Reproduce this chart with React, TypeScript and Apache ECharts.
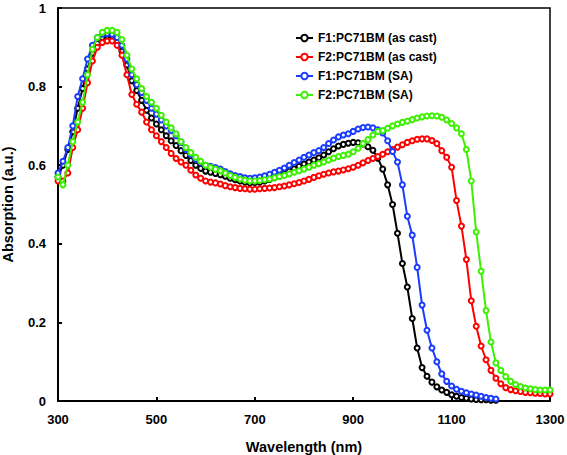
import React, { useEffect, useRef } from "react";
import * as echarts from "echarts";

const wavelengths = [
  300, 310, 320, 330, 340, 350, 360, 370, 380, 390,
  400, 410, 420, 430, 440, 450, 460, 470, 480, 490,
  500, 510, 520, 530, 540, 550, 560, 570, 580, 590,
  600, 610, 620, 630, 640, 650, 660, 670, 680, 690,
  700, 710, 720, 730, 740, 750, 760, 770, 780, 790,
  800, 810, 820, 830, 840, 850, 860, 870, 880, 890,
  900, 910, 920, 930, 940, 950, 960, 970, 980, 990,
  1000, 1010, 1020, 1030, 1040, 1050, 1060, 1070, 1080, 1090,
  1100, 1110, 1120, 1130, 1140, 1150, 1160, 1170, 1180, 1190,
  1200, 1210, 1220, 1230, 1240, 1250, 1260, 1270, 1280, 1290,
  1300,
];

const seriesNames = [
  "F1:PC71BM (as cast)",
  "F2:PC71BM (as cast)",
  "F1:PC71BM (SA)",
  "F2:PC71BM (SA)",
];

const f1AsCast = [
  0.57, 0.60, 0.64, 0.685, 0.745, 0.795, 0.845, 0.885, 0.91, 0.925,
  0.929, 0.928, 0.915, 0.89, 0.855, 0.815, 0.79, 0.765, 0.74, 0.72,
  0.705, 0.69, 0.675, 0.662, 0.65, 0.637, 0.625, 0.612, 0.60, 0.592,
  0.585, 0.582, 0.579, 0.576, 0.572, 0.567, 0.563, 0.56, 0.557, 0.555,
  0.556, 0.557, 0.56, 0.564, 0.568, 0.573, 0.579, 0.585, 0.591, 0.597,
  0.603, 0.608, 0.613, 0.619, 0.626, 0.634, 0.642, 0.649, 0.653, 0.656,
  0.658, 0.657, 0.654, 0.647, 0.638, 0.618, 0.59, 0.55, 0.50, 0.427,
  0.35, 0.29, 0.21, 0.135, 0.085, 0.063, 0.048, 0.036, 0.028, 0.022,
  0.016, 0.012, 0.009, 0.007, 0.005, 0.004, 0.003, 0.003, 0.002, 0.002,
];

const f2AsCast = [
  0.56, 0.56, 0.58, 0.645, 0.69, 0.745, 0.81, 0.865, 0.90, 0.912,
  0.916, 0.916, 0.905, 0.88, 0.83, 0.78, 0.755, 0.735, 0.71, 0.69,
  0.675, 0.66, 0.645, 0.63, 0.617, 0.608, 0.60, 0.587, 0.575, 0.567,
  0.56, 0.557, 0.555, 0.552, 0.548, 0.545, 0.543, 0.541, 0.54, 0.539,
  0.539, 0.54, 0.541, 0.542, 0.543, 0.545, 0.547, 0.55, 0.553, 0.556,
  0.56, 0.564, 0.569, 0.573, 0.577, 0.58, 0.583, 0.585, 0.588, 0.591,
  0.595, 0.60, 0.606, 0.612, 0.617, 0.622, 0.628, 0.634, 0.64, 0.646,
  0.652, 0.658, 0.662, 0.666, 0.667, 0.667, 0.663, 0.655, 0.637, 0.62,
  0.595, 0.51, 0.445, 0.36, 0.255, 0.19, 0.14, 0.105, 0.078, 0.058,
  0.044, 0.034, 0.029, 0.026, 0.024, 0.022, 0.021, 0.02, 0.019, 0.018,
  0.018,
];

const f1SA = [
  0.58, 0.61, 0.645, 0.70, 0.775, 0.82, 0.87, 0.905, 0.925, 0.933,
  0.935, 0.933, 0.925, 0.905, 0.87, 0.83, 0.805, 0.785, 0.765, 0.745,
  0.73, 0.715, 0.70, 0.688, 0.675, 0.658, 0.64, 0.627, 0.615, 0.607,
  0.60, 0.597, 0.594, 0.59, 0.584, 0.578, 0.574, 0.571, 0.568, 0.567,
  0.568, 0.57, 0.573, 0.577, 0.582, 0.587, 0.593, 0.60, 0.607, 0.613,
  0.62, 0.626, 0.632, 0.637, 0.645, 0.655, 0.664, 0.672, 0.677, 0.68,
  0.686, 0.692, 0.696, 0.697, 0.695, 0.69, 0.682, 0.662, 0.635, 0.608,
  0.55, 0.47, 0.422, 0.34, 0.244, 0.18, 0.135, 0.10, 0.069, 0.05,
  0.038, 0.03, 0.025, 0.021, 0.018, 0.015, 0.012, 0.009, 0.007, 0.005,
];

const f2SA = [
  0.57, 0.55, 0.60, 0.66, 0.71, 0.76, 0.83, 0.895, 0.925, 0.938,
  0.943, 0.943, 0.938, 0.92, 0.88, 0.845, 0.82, 0.795, 0.775, 0.76,
  0.745, 0.727, 0.71, 0.695, 0.68, 0.66, 0.645, 0.632, 0.62, 0.61,
  0.60, 0.595, 0.59, 0.586, 0.58, 0.574, 0.569, 0.565, 0.562, 0.56,
  0.56, 0.561, 0.563, 0.565, 0.568, 0.571, 0.574, 0.578, 0.582, 0.586,
  0.59, 0.595, 0.60, 0.604, 0.608, 0.613, 0.618, 0.622, 0.625, 0.628,
  0.634, 0.643, 0.655, 0.665, 0.677, 0.686, 0.688, 0.694, 0.70, 0.705,
  0.709, 0.712, 0.716, 0.72, 0.723, 0.725, 0.726, 0.725, 0.722, 0.715,
  0.706, 0.695, 0.68, 0.64, 0.56, 0.43, 0.33, 0.23, 0.15, 0.097,
  0.078, 0.062, 0.05, 0.042, 0.037, 0.033, 0.031, 0.029, 0.028, 0.028,
  0.028,
];

const seriesValues = [f1AsCast, f2AsCast, f1SA, f2SA];
const seriesColors = ["#000000", "#ff0000", "#1a3cff", "#3cf000"];

const FONT = "'Liberation Sans', Arial, sans-serif";

export default function App() {
  const ref = useRef<HTMLDivElement>(null);

  useEffect(() => {
    if (!ref.current) return;
    const chart = echarts.init(ref.current, null, { renderer: "svg" });
    const series = seriesNames.map((name, i) => ({
      name,
      type: "line",
      data: seriesValues[i].map((v, j) => [wavelengths[j], v]),
      symbol: "emptyCircle",
      symbolSize: 5,
      showAllSymbol: true,
      lineStyle: { color: seriesColors[i], width: 2 },
      itemStyle: { color: seriesColors[i], borderWidth: 1 },
      z: 2 + i,
    }));
    chart.setOption({
      animation: false,
      backgroundColor: "#ffffff",
      grid: {
        left: 58,
        right: 17,
        top: 8,
        bottom: 54,
        containLabel: false,
        outerBoundsMode: "none",
        show: true,
        borderColor: "#000",
        borderWidth: 1.5,
      },
      legend: {
        orient: "vertical",
        left: 290,
        top: 27,
        itemWidth: 17,
        itemHeight: 8,
        itemGap: 7,
        data: seriesNames,
        textStyle: {
          fontFamily: FONT,
          fontWeight: "bold",
          fontSize: 12,
          color: "#000",
        },
      },
      xAxis: {
        type: "value",
        min: 300,
        max: 1300,
        interval: 200,
        name: "Wavelength (nm)",
        nameLocation: "middle",
        nameGap: 38,
        nameTextStyle: {
          fontFamily: FONT,
          fontWeight: "bold",
          fontSize: 14.5,
          color: "#000",
        },
        axisLine: { lineStyle: { color: "#000", width: 2 } },
        axisTick: { inside: true, length: 4, lineStyle: { color: "#000", width: 2 } },
        axisLabel: {
          fontFamily: FONT,
          fontWeight: "bold",
          fontSize: 13,
          color: "#000",
          margin: 12,
          formatter: (v: number) => String(v),
        },
        splitLine: { show: false },
      },
      yAxis: {
        type: "value",
        min: 0,
        max: 1,
        interval: 0.2,
        name: "Absorption (a.u.)",
        nameLocation: "middle",
        nameGap: 43,
        nameTextStyle: {
          fontFamily: FONT,
          fontWeight: "bold",
          fontSize: 14.5,
          color: "#000",
        },
        axisLine: { lineStyle: { color: "#000", width: 2 } },
        axisTick: { inside: true, length: 4, lineStyle: { color: "#000", width: 2 } },
        axisLabel: {
          fontFamily: FONT,
          fontWeight: "bold",
          fontSize: 13,
          color: "#000",
          margin: 12,
          formatter: (v: number) => String(Math.round(v * 10) / 10),
        },
        splitLine: { show: false },
      },
      series,
    });
    return () => chart.dispose();
  }, []);

  return (
    <div
      ref={ref}
      style={{ position: "fixed", left: 0, top: 0, width: 567, height: 455 }}
    />
  );
}
